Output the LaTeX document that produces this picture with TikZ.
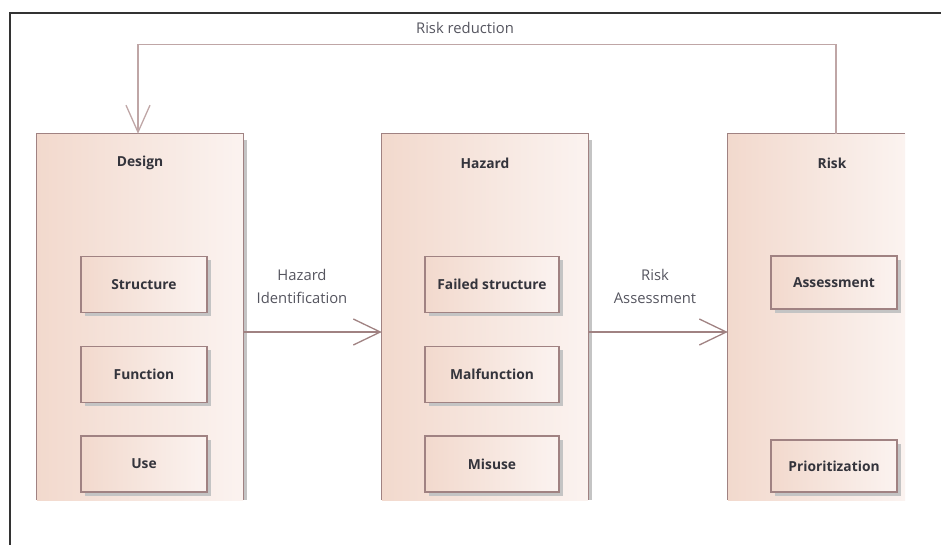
\documentclass[tikz,border=0pt]{standalone}
\usepackage{fontspec}
\setmainfont{Open Sans}
\usetikzlibrary{arrows.meta,shadows}
\definecolor{edgecol}{HTML}{A08282}
\definecolor{fbcol}{HTML}{BFA6A6}
\definecolor{fillL}{HTML}{F2D9CD}
\definecolor{fillR}{HTML}{FBF3F0}
\definecolor{shadecol}{HTML}{C4C4C4}
\definecolor{txtcol}{HTML}{34343C}
\definecolor{lblcol}{HTML}{55555F}

\begin{document}
\begin{tikzpicture}[x=1pt,y=-1pt,
  panel/.style={left color=fillL,right color=fillR,minimum width=206pt,minimum height=366pt,inner sep=0pt},
  item/.style={draw=edgecol,line width=1.3pt,left color=fillL,right color=fillR,
    minimum width=126pt,minimum height=56pt,inner sep=0pt,text=txtcol,
    font=\bfseries\fontsize{13.8}{15}\selectfont,
    drop shadow={shadow xshift=3.5pt,shadow yshift=-3.5pt,fill=shadecol,opacity=1}},
  title/.style={font=\bfseries\fontsize{13.8}{15}\selectfont,text=txtcol},
  lbl/.style={font=\fontsize{14.8}{23}\selectfont,text=lblcol,align=center},
  border/.style={draw=edgecol,line width=1.3pt},
  link/.style={draw=edgecol,line width=1.3pt,-{Straight Barb[length=27pt,width=26pt]}},
  fb/.style={draw=fbcol,line width=1.3pt,-{Straight Barb[length=27pt,width=24pt]}}
]
\useasboundingbox (0,0) rectangle (941,545);
% page frame
\draw[black!80,line width=1.2pt] (10,545) -- (10,13) -- (941,13);

% three panels, open at the bottom
\node[panel] (design) at (140,317) {};
\node[panel] (hazard) at (485,317) {};
\node[panel,minimum width=177pt] (risk) at (816.5,317) {};
\fill[shadecol] ([yshift=-6pt]design.north east) rectangle ([xshift=4pt]design.south east);
\fill[shadecol] ([yshift=-6pt]hazard.north east) rectangle ([xshift=4pt]hazard.south east);
\draw[border] (design.south west) -- (design.north west) -- (design.north east) -- (design.south east);
\draw[border] (hazard.south west) -- (hazard.north west) -- (hazard.north east) -- (hazard.south east);
\draw[border] (risk.south west) -- (risk.north west) -- (risk.north east);
\node[title] (designT) at (140,163) {Design};
\node[title] (hazardT) at (485,163) {Hazard};
\node[title] (riskT) at (832,163) {Risk};

% Design
\node[item] (structure) at (144,284.5) {Structure};
\node[item] (function) at (144,374.5) {Function};
\node[item] (use) at (144,464) {Use};
% Hazard
\node[item,minimum width=134pt] (failed) at (492,284.5) {Failed structure};
\node[item,minimum width=134pt] (malfunction) at (492,374.5) {Malfunction};
\node[item,minimum width=134pt] (misuse) at (492,464) {Misuse};
% Risk
\node[item,minimum height=53pt] (assess) at (834,282.5) {Assessment};
\node[item,minimum height=52pt] (prior) at (834,466) {Prioritization};

% steps between panels
\draw[link] ([yshift=-15pt]design.east) -- ([yshift=-15pt]hazard.west);
\node[lbl] (hazid) at (302,286) {Hazard\\Identification};
\draw[link] ([yshift=-15pt]hazard.east) -- ([yshift=-15pt]risk.west);
\node[lbl] (riskass) at (655,286) {Risk\\Assessment};

% feedback loop
\draw[fb] ([xshift=19.5pt]risk.north) -- ++(0,-89) -| ([xshift=-2pt]design.north);
\node[lbl] (riskred) at (465,28) {Risk reduction};
\end{tikzpicture}
\end{document}
